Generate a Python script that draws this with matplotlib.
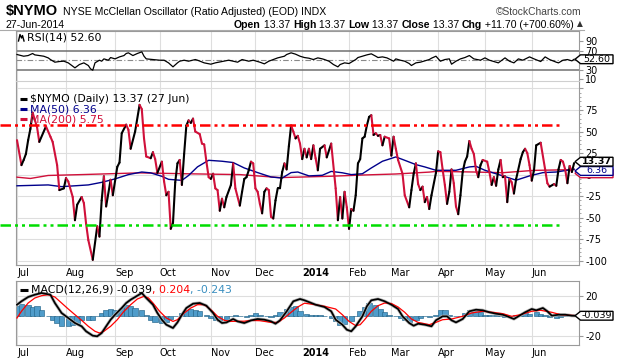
import numpy as np
import matplotlib
matplotlib.use('Agg')
import matplotlib.pyplot as plt
from matplotlib.collections import LineCollection
from matplotlib.patches import Polygon
from matplotlib.lines import Line2D
import matplotlib.transforms as mtransforms

# ---------------- data (x = NYSE trading session index from 1 Jul 2013) ----------------
month_labels = ['Jul', 'Aug', 'Sep', 'Oct', 'Nov', 'Dec', '2014', 'Feb', 'Mar', 'Apr', 'May', 'Jun']
month_starts = [0, 22, 44, 64, 87, 107, 128, 149, 168, 189, 210, 231]

nymo_s = [0, 2, 3, 4, 5, 6, 7, 9, 10, 13, 15, 16, 18, 19, 21, 22, 23, 25, 26, 27, 29, 30, 31, 32, 34,
          36, 37, 38, 39, 40, 42, 43, 45, 46, 47, 49, 50, 51, 53, 55, 56, 57, 58, 60, 61, 62, 63, 65,
          66, 67, 68, 69, 70, 71, 72, 73, 74, 75, 76, 77, 78, 79, 80, 82, 83, 84, 85, 86, 87, 88, 89,
          90, 91, 92, 93, 94, 96, 97, 98, 100, 101, 102, 103, 104, 105, 106, 107, 108, 109, 110, 111,
          112, 113, 114, 115, 116, 117, 118, 119, 120, 121, 122, 123, 124, 125, 126, 127, 128, 129,
          130, 131, 132, 133, 134, 135, 136, 138, 139, 141, 143, 144, 145, 146, 147, 148, 149, 150,
          151, 152, 153, 154, 155, 156, 157, 158, 159, 160, 161, 162, 163, 164, 165, 167, 168, 169,
          170, 171, 173, 174, 176, 177, 178, 179, 180, 181, 182, 183, 184, 185, 186, 188, 189, 190,
          191, 192, 193, 194, 195, 196, 197, 198, 199, 200, 201, 202, 203, 204, 205, 206, 207, 208,
          209, 211, 212, 213, 214, 215, 216, 217, 218, 219, 220, 221, 222, 223, 224, 226, 227, 228,
          229, 230, 231, 232, 233, 235, 237, 238, 239, 241, 242, 243, 244, 245, 246, 247, 248, 249, 250]
nymo_v = [40, 11, 17, 24, 40, 53, 72, 55, 38, 56, 44, 38, 11, -18, -16, -4, -8, -26, -53, -35, -26, -33, -57, -76, -99,
          -60, -72, -30, -2, -37, -6, -24, 9, 14, 48, 58, 52, 30, 50, 81, 76, 42, 21, 19, 26, 18, 2, 15,
          -8, -24, -20, -63, -56, -9, 13, 17, -12, 24, 57, 63, 60, 65, 50, 47, 36, 35, 15, -3, -5, 1, -16,
          -18, -42, -28, -38, -26, -12, 13, -16, -36, -20, -5, -3, 5, 15, 13, -16, -20, -34, -45, -20,
          -16, -18, -49, -51, -30, -16, -16, 3, 13, 6, 33, 57, 50, 42, 45, 36, 18, 30,
          20, 30, 18, 34, 19, 5, 30, 34, 20, 36, -16, -53, -26, -51, -20, -38, -63, -40,
          -42, -24, 13, 18, 42, 44, 57, 67, 69, 46, 48, 45, 46, 34, 44, 42, 22, 44,
          30, 17, 1, -24, -38, -18, 1, 13, -11, -18, -14, -32, -26, -40, -24, 2, 27, 26,
          6, -12, -34, -20, 6, -10, -37, -46, -24, 3, 15, 21, 39, 30, 24, 5, -3, 11,
          17, 15, 3, -12, -3, -13, 6, 17, -3, -2, -32, -5, -9, -22, -5, 18, 26, 30,
          25, 11, -7, 5, 34, 37, 6, -10, -14, -11, -13, 6, 17, 15, 6, -10, 10, 3, 13.37]

ma50_s = [0, 14, 20, 26, 32, 38, 44, 50, 56, 60, 65, 68, 74, 77, 81, 86, 92, 97, 102, 108, 114, 119,
          123, 126, 131, 137, 141, 146, 150, 155, 159, 164, 170, 174, 179, 183, 188, 197, 203, 206,
          210, 218, 224, 230, 236, 242, 250]
ma50_v = [-13, -12, -14, -13, -12, -9, -5, 0, 3, 2, -2, -5.5, -6.7, -1, 9, 16.6, 15.5, 14, 7.7, 2.3, -2.8, -4,
          2.3, 3, -1.5, -0.8, 3.7, 2.1, 0, 1, 7.7, 15.5, 20.5, 16.6, 11.6, 8.9, 5, 5, 8.9, 9.6,
          5, -1.5, -6.5, -1.5, 2.3, 3, 6.36]

ma200_s = [0, 6, 14, 29, 55, 75, 100, 118, 125, 140, 155, 170, 185, 188, 205, 218, 232, 250]
ma200_v = [-3, -4.5, -1, 0, 2, 1, 0, -3.5, -3, -2, -0.5, 0.7, 2.9, 3.7, 3, 2.2, 4.9, 5.75]

overbought = 58
oversold = -59

rsi_s = [0, 3, 5, 7, 8, 10, 12, 14, 15, 17, 19, 21, 23, 24, 26, 28, 30, 32, 33, 34, 35, 37, 38, 39, 41,
         42, 44, 46, 48, 49, 50, 52, 54, 56, 57, 58, 61, 64, 66, 68, 70, 72, 73, 75, 77, 80, 81, 84,
         87, 89, 92, 95, 97, 99, 101, 104, 106, 109, 111, 113, 115, 117, 120, 121, 123, 125, 127,
         129, 131, 133, 135, 137, 138, 140, 142, 144, 145, 147, 149, 152, 153, 155, 157, 159, 161,
         162, 164, 166, 169, 170, 172, 174, 176, 177, 179, 181, 183, 185, 186, 188, 190, 192, 194,
         195, 197, 199, 201, 203, 205, 208, 210, 212, 214, 216, 218, 219, 221, 223, 225, 227, 230,
         232, 235, 237, 239, 242, 243, 245, 247, 249, 250]
rsi_v = [62.6, 59.0, 60.4, 64.7, 61.8, 60.4, 59.0, 55.5, 52.0, 46.4, 47.8, 48.5, 45.0, 41.5, 34.5, 41.5,
         45.0, 39.4, 32.4, 29.5, 45.0, 50.6, 48.5, 53.4, 50.6, 56.2, 53.4, 57.6, 60.4, 64.7, 66.1, 60.4,
         64.7, 68.2, 59.0, 53.4, 52.0, 50.6, 50.6, 45.0, 36.6, 45.0, 48.5, 50.6, 48.5, 52.0, 50.6, 45.0,
         42.2, 45.0, 47.8, 50.6, 48.5, 46.4, 52.0, 48.5, 50.6, 46.4, 42.9, 48.5, 52.0, 55.5, 59.0, 62.6,
         66.1, 63.3, 59.0, 56.2, 54.8, 52.0, 55.5, 53.4, 52.0, 48.5, 41.5, 36.6, 41.5, 45.0, 43.6, 52.0,
         56.2, 59.0, 61.8, 64.0, 59.0, 56.2, 57.6, 55.5, 48.5, 53.4, 50.6, 48.5, 43.6, 39.4, 45.0, 46.4,
         49.2, 52.0, 54.8, 59.0, 48.5, 52.0, 53.4, 42.2, 48.5, 53.4, 56.2, 60.4, 53.4, 50.6, 55.5, 50.6,
         47.8, 45.0, 52.0, 55.5, 48.5, 45.0, 53.4, 50.6, 57.6, 53.4, 47.8, 57.6, 52.0, 46.4, 45.0, 50.6,
         52.0, 49.2, 52.60]

macd_s = [0, 2, 5, 8, 11, 15, 17, 20, 23, 26, 29, 31, 34, 36, 38, 40, 42, 44, 47, 49, 51, 54, 56, 58,
          61, 63, 65, 67, 70, 72, 74, 76, 79, 82, 85, 88, 90, 92, 94, 97, 99, 102, 105, 108, 111, 114,
          116, 118, 121, 124, 127, 129, 134, 138, 141, 143, 146, 148, 150, 152, 155, 157, 159, 162,
          165, 168, 171, 173, 176, 178, 180, 183, 186, 188, 191, 193, 195, 197, 200, 203, 206, 209,
          212, 215, 218, 220, 223, 225, 228, 231, 233, 236, 238, 240, 243, 246, 249, 250]
macd_v = [11, 14.4, 18.7, 21, 22.7, 21, 12.7, 2.7, -2.3, -7.3, -10.6, -15.6, -20, -20.6, -17.3, -10.6,
          -4, 1, 7.7, 12.7, 16, 20, 22.7, 17.7, 11, 2.7, -4, -9, -12.3, -6.7, 1, 7.7, 12, 12.7, 10,
          2.7, -4, -7.3, -6.7, -3.3, -5.7, -7.3, -4.7, -3.3, -4, -5.7, -8, -4.7, 4.3, 14.4, 16.7,
          15.4, 11, 8.7, 4.4, -4, -9, -14, -15.6, -10.6, -0.6, 9.4, 15.4, 16.7, 14.4, 11, 6.7, -0.6,
          -7.3, -10, -8, -9, -10.6, -4.6, -0.6, -0.6, -4.6, -6.7, -3.3, 4.4, 6, 5.4, 3.4, 2, 1, -0.6,
          -3.3, -0.6, 3.4, 6.7, 5.4, 7.7, 4.4, 0, 1, 1, 0, -0.039]

signal_s = [0, 2, 5, 8, 11, 14, 17, 20, 23, 26, 29, 32, 35, 37, 39, 42, 45, 48, 51, 54, 57, 59, 61, 64,
            67, 70, 72, 75, 78, 81, 84, 87, 90, 93, 96, 102, 105, 109, 114, 117, 120, 123, 126, 129,
            134, 138, 143, 146, 149, 152, 154, 156, 159, 162, 165, 168, 171, 174, 177, 180, 185, 188,
            191, 195, 200, 204, 209, 213, 218, 222, 226, 231, 235, 240, 244, 250]
signal_v = [-2.3, 4.4, 12.7, 17.7, 20, 21, 18.7, 12.7, 6.7, 1, -4.6, -10.6, -15.6, -17.3, -15.6, -10.6,
            -4, 4.4, 11, 16.7, 19.4, 17.7, 12.7, 4.4, -2.3, -5.7, -4, 2.7, 7.7, 11, 11, 6, -0.6, -4.6,
            -5.7, -5.5, -4.7, -5, -6.7, -6.7, -2.3, 3.4, 8.7, 12.5, 11, 9.4, 6.7, 1, -5.7, -10, -9, -4,
            4.4, 10, 12.7, 12.2, 8.7, 3.4, -3.3, -6.7, -9, -6.7, -4, -3.3, -0.6, 2.7, 4.4, 3.5, 2, -0.6,
            1, 4.4, 5.4, 3.4, 1, 0.204]

hist_s = [0, 2, 5, 7, 9, 11, 14, 16, 18, 20, 23, 25, 27, 29, 32, 34, 36, 38, 40, 42, 44, 47, 49, 51, 53,
          56, 58, 60, 62, 65, 67, 69, 71, 74, 76, 78, 80, 82, 85, 87, 89, 91, 94, 96, 98, 100, 103, 105,
          107, 109, 112, 114, 116, 118, 121, 123, 125, 127, 130, 132, 134, 136, 138, 141, 143, 145, 147,
          150, 152, 154, 156, 158, 161, 163, 165, 167, 170, 172, 174, 176, 179, 181, 183, 185, 188, 190,
          192, 194, 197, 199, 201, 203, 206, 208, 210, 212, 215, 217, 219, 221, 224, 226, 228, 230, 233,
          235, 237, 239, 242, 244, 246, 248, 250]
hist_v = [9.3, 12, 11, 8.7, 9.3, 6, 0, -4.7, -7.3, -10.7, -10.7, -9, -8, -4.7, -4.7, -4, -0.7, 2.7, 5.3,
          6.7, 6, 7.7, 11, 10, 7.7, 6, 1, -4, -6.7, -7.3, -6.7, -3.3, -0.7, 2.7, 6, 6.7, 6, 4.3, 1, -2.3,
          -4.7, -5.7, -4, -0.7, 1, -0.7, -1.3, 0.7, 2.7, 1, -0.7, -1.3, 0.3, 3.3, 6.7, 8.7, 9.3, 4.3, 2,
          0.7, 0.3, 0.3, -0.7, -2.3, -5.7, -9, -8, -5.7, -0.7, 4.3, 8.7, 12.7, 11, 6.7, 3.3, 1, -0.7,
          -2.3, -4.7, -6.7, -4.7, -2.3, -0.7, -1.3, 1, 6, 5.3, 1, -0.7, -0.7, 2.7, 6, 4.3, 3.3, 1, 1, 0.3,
          -0.7, -1.3, -0.7, 0.3, 1, 2.7, 2, 3.3, 2, 1, -1.3, -2.3, -1.3, -0.7, 0.3, -0.243]

# ---------------- figure ----------------
W, H = 620, 360
plt.rcParams['font.family'] = ['DejaVu Sans']
fig = plt.figure(figsize=(W / 100, H / 100), dpi=100)

XL = (-0.45, 252.2)
GRID = '#dedede'
EDGE = '#9a9a9a'
CRIMSON = '#d0103a'
NAVY = '#00008b'
HDR = ['Liberation Sans', 'DejaVu Sans']
LFS = 7.8


def axes_px(x0, y0, x1, y1):
    return fig.add_axes([x0 / W, 1 - y1 / H, (x1 - x0) / W, (y1 - y0) / H])


def ftext(x, y, s, **kw):
    return fig.text(x / W, 1 - y / H, s, **kw)


def flegline(x0, x1, y, color, lw=2.2):
    fig.add_artist(Line2D([x0 / W, x1 / W], [1 - y / H] * 2, transform=fig.transFigure,
                          color=color, lw=lw, solid_capstyle='butt'))


def style(a, yt, ylab, ylim, minor=None):
    a.set_xlim(*XL)
    a.set_ylim(*ylim)
    a.set_xticks(month_starts)
    a.set_yticks(yt)
    a.set_yticklabels(ylab)
    a.yaxis.tick_right()
    a.tick_params(axis='y', which='major', length=3, width=0.8, color=EDGE, pad=1.5, labelsize=7)
    if minor is not None:
        a.set_yticks(minor, minor=True)
        a.tick_params(axis='y', which='minor', length=1.5, width=0.6, color=EDGE)
    a.tick_params(axis='x', length=0, pad=2.5, labelsize=7)
    for sp in a.spines.values():
        sp.set_color(EDGE)
        sp.set_linewidth(0.8)
    a.set_facecolor('white')


def set_month_labels(a):
    a.set_xticklabels(month_labels)
    for lbl, txt in zip(a.get_xticklabels(), month_labels):
        lbl.set_ha('left')
        if txt == '2014':
            lbl.set_fontweight('bold')


def tag(a, yval, label, ppu, ec, tc='black', bold=False, z=10, hh=4.4):
    trans = mtransforms.blended_transform_factory(a.transAxes, a.transData)
    axw = 563.0
    xt = 1 + (-4) / axw
    x0 = 1 + 1.5 / axw
    x1 = 1 + 34 / axw
    h = hh / ppu
    yc = yval
    poly = Polygon([(xt, yc), (x0, yc + h), (x1, yc + h), (x1, yc - h), (x0, yc - h)], closed=True,
                   transform=trans, facecolor='white', edgecolor=ec, lw=1.0, clip_on=False, zorder=z)
    a.add_patch(poly)
    if label:
        a.text((x0 + x1) / 2 + 0.5 / axw, yc, label, transform=trans, ha='center', va='center', fontsize=6.8,
               fontweight='bold' if bold else 'normal', color=tc, clip_on=False, zorder=z + 1)


ax_r = axes_px(16, 31, 579, 81)
ax = axes_px(16, 81, 579, 265)
ax_m = axes_px(16, 281, 579, 345)

# ---------------- RSI panel ----------------
style(ax_r, [90, 70, 30, 10], ['90', '70', '30', '10'], (6.8, 112.1))
ax_r.set_xticklabels([])
ax_r.grid(True, axis='x', color=GRID, lw=0.8)
ax_r.axhline(70, color='#707070', lw=1.1, zorder=2)
ax_r.axhline(30, color='#707070', lw=1.1, zorder=2)
ax_r.axhline(50, color='#8a8a8a', lw=0.8, dashes=(5, 2, 1, 2), zorder=2)
ax_r.plot(rsi_s, rsi_v, color='black', lw=0.9, zorder=3)
ax_r.spines['bottom'].set_visible(False)
tag(ax_r, 52.6, '52.60', 0.475, 'black')
ftext(27, 37.5, 'RSI(14) 52.60', fontsize=LFS, va='center')
# small indicator glyph
ax_r.add_artist(Line2D([18.5 / W, 20 / W, 21.5 / W, 22.5 / W, 24 / W],
                       [1 - 41 / H, 1 - 34.5 / H, 1 - 38 / H, 1 - 35.5 / H, 1 - 41 / H],
                       transform=fig.transFigure, color='black', lw=1.0))

# ---------------- main panel ----------------
style(ax, [100, 75, 50, 25, 0, -25, -50, -75, -100], ['', '75', '50', '25', '0', '-25', '-50', '-75', '-100'],
      (-105, 108.7), minor=list(range(-100, 105, 5)))
set_month_labels(ax)
ax.spines['top'].set_color('#cfcfcf')
ax.grid(True, color=GRID, lw=0.8)
ax.set_axisbelow(True)

ax.plot(ma200_s, ma200_v, color=CRIMSON, lw=1.0, zorder=3)
ax.plot(ma50_s, ma50_v, color=NAVY, lw=1.0, zorder=3)

pts = np.column_stack([nymo_s, nymo_v])
segs = np.stack([pts[:-1], pts[1:]], axis=1)
cols = ['black' if b >= a else CRIMSON for a, b in zip(nymo_v[:-1], nymo_v[1:])]
ax.add_collection(LineCollection(segs, colors=cols, linewidths=1.5, zorder=4, capstyle='round',
                                 joinstyle='round'))

dd = (4.2, 1.6, 1.2, 1.6, 1.2, 1.6)
for lvl, c in ((overbought, '#ff0000'), (oversold, '#00dd00')):
    ax.plot([-7.6, 244.6], [lvl, lvl], color=c, lw=1.8, dashes=dd, clip_on=False, zorder=5)

flegline(20, 27, 98.5, 'black')
ftext(30, 98.5, '$NYMO (Daily) 13.37 (27 Jun)', fontsize=LFS, va='center', zorder=6)
flegline(20, 27, 109, NAVY)
ftext(30, 109, 'MA(50) 6.36', fontsize=LFS, va='center', color=NAVY, zorder=6)
flegline(20, 27, 119.5, CRIMSON)
ftext(30, 119.5, 'MA(200) 5.75', fontsize=LFS, va='center', color=CRIMSON, zorder=6)

tag(ax, 1.5, '', 0.861, CRIMSON, z=10)
tag(ax, 4.2, '6.36', 0.861, NAVY, tc=NAVY, z=12)
tag(ax, 15.0, '13.37', 0.861, 'black', bold=True, z=14)

# ---------------- MACD panel ----------------
style(ax_m, [20, -20], ['20', '-20'], (-29.3, 34.7))
set_month_labels(ax_m)
ax_m.grid(True, color=GRID, lw=0.8)
ax_m.set_axisbelow(True)
ax_m.bar(hist_s, hist_v, width=2.4, color='#4f9cca', edgecolor='#24658a', lw=0.45, zorder=2)
ax_m.plot(macd_s, macd_v, color='#b5b5b5', lw=2.3, zorder=3, solid_joinstyle='round')
ax_m.plot(signal_s, signal_v, color='#ff0000', lw=0.9, zorder=4)
ax_m.plot(macd_s, macd_v, color='black', lw=1.25, zorder=5, solid_joinstyle='round')
tag(ax_m, -0.039, '-0.039', 1.0, 'black')

flegline(20, 28, 289.5, 'black')
mt = ftext(31, 289.5, 'MACD(12,26,9) -0.039', fontsize=LFS, va='center', zorder=7)
m2 = ax_m.annotate(', 0.204', xy=(1, 0.5), xycoords=mt, va='center', ha='left', fontsize=LFS,
                   color='#ff0000', annotation_clip=False, zorder=7)
ax_m.annotate(', -0.243', xy=(1, 0.5), xycoords=m2, va='center', ha='left', fontsize=LFS,
              color='#3a8fc0', annotation_clip=False, zorder=7)

# ---------------- header ----------------
ftext(6, 15, '$NYMO', fontsize=10.5, fontweight='bold', family=HDR, va='baseline')
ftext(63, 15, 'NYSE McClellan Oscillator (Ratio Adjusted) (EOD) INDX', fontsize=7.6, family=HDR,
      va='baseline')
ftext(582, 15, '\u00a9StockCharts.com', fontsize=7.4, family=HDR, va='baseline', ha='right', color='#444444')
ftext(6, 27.5, '27-Jun-2014', fontsize=7.6, family=HDR, va='baseline')

pieces = [('Open', True), (' 13.37 ', False), ('High', True), (' 13.37 ', False), ('Low', True),
          (' 13.37 ', False), ('Close', True), (' 13.37 ', False), ('Chg', True),
          (' +11.70 (+700.60%) ', False)]
prev = ftext(234, 27.5, pieces[0][0], fontsize=7.6, fontweight='bold', family=HDR, va='baseline')
for txt, b in pieces[1:]:
    prev = ax_r.annotate(txt, xy=(1, 0), xycoords=prev, va='bottom', ha='left', fontsize=7.6,
                         fontweight='bold' if b else 'normal', family=HDR, annotation_clip=False)
ax_r.annotate('\u25b2', xy=(1, 0.1), xycoords=prev, va='bottom', ha='left', fontsize=5.5,
              color='#333333', family=['DejaVu Sans'], annotation_clip=False)
fig.add_artist(Line2D([0, 584 / W], [1 - 29.5 / H] * 2, transform=fig.transFigure, color='#aaaaaa', lw=0.8))

fig.savefig('out.png', dpi=100)
